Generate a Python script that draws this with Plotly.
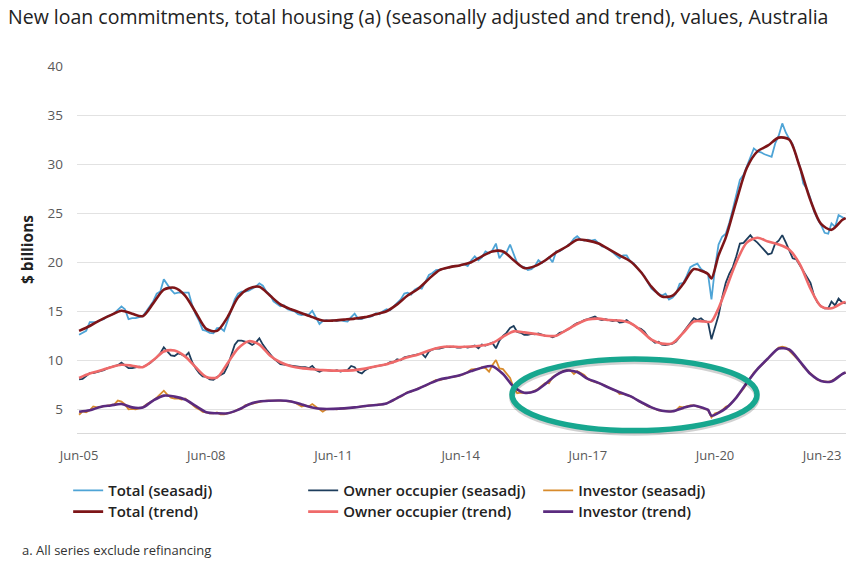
import pandas as pd
import plotly.graph_objects as go

# ---------------- data ----------------
start_month = "2005-06-01"
n_months = 218  # Jun-05 .. Jul-23

total_sa = [
    12.6, 12.8, 13.0, 13.9, 13.9, 13.9, 14.1, 14.2, 14.5, 14.6, 14.8, 15.2,
    15.5, 15.2, 14.2, 14.3, 14.3, 14.4, 14.5, 15.0, 15.5, 16.0, 16.8, 17.0,
    18.25, 17.7, 17.2, 16.8, 16.9, 16.9, 16.9, 16.9, 15.6, 14.7, 14.0, 13.1,
    13.0, 12.8, 12.75, 13.27, 13.3, 13.0, 14.0, 15.0, 16.2, 16.8, 17.0, 17.0,
    17.1, 17.3, 17.5, 17.85, 17.6, 17.0, 16.7, 16.0, 15.7, 15.5, 15.6, 15.2,
    15.1, 15.0, 14.7, 14.6, 14.7, 14.65, 15.05, 14.3, 13.7, 14.0, 14.1, 14.0,
    14.1, 14.0, 14.1, 14.0, 13.95, 14.4, 14.75, 14.2, 14.2, 14.4, 14.4, 14.5,
    14.8, 14.7, 15.0, 15.2, 15.1, 15.5, 15.8, 16.2, 16.8, 16.9, 16.7, 17.2,
    17.4, 17.3, 18.0, 18.7, 18.9, 19.2, 19.25, 19.3, 19.4, 19.5, 19.6, 19.6,
    19.7, 19.8, 19.6, 20.2, 20.6, 20.2, 20.5, 21.1, 20.9, 21.2, 21.9, 20.4,
    20.9, 21.0, 21.8, 20.8, 19.9, 19.6, 19.5, 19.2, 19.3, 19.6, 20.2, 19.9,
    20.2, 20.5, 20.0, 21.1, 21.1, 21.4, 21.6, 21.9, 22.4, 22.65, 22.3, 22.2,
    22.3, 22.2, 22.3, 21.9, 21.6, 21.5, 21.3, 21.0, 20.7, 20.4, 20.7, 20.7,
    20.1, 19.9, 19.4, 19.0, 18.6, 17.9, 17.3, 17.0, 16.8, 16.6, 16.8, 16.2,
    16.4, 16.8, 17.8, 17.9, 18.6, 19.5, 19.7, 19.85, 19.3, 19.1, 18.8, 16.2,
    19.5, 21.8, 22.6, 22.9, 24.0, 25.4, 26.8, 28.4, 28.9, 29.8, 30.6, 31.6,
    31.3, 31.2, 31.0, 30.9, 30.75, 32.1, 32.9, 34.15, 33.2, 32.6, 32.0, 30.8,
    29.8, 28.0, 27.5, 26.5, 25.2, 24.4, 23.8, 23.0, 22.9, 23.95, 23.6, 24.8,
    24.6, 24.4,
]

owner_sa = [
    8.05, 8.1, 8.4, 8.7, 8.7, 8.8, 8.9, 9.0, 9.2, 9.3, 9.4, 9.5,
    9.76, 9.5, 9.2, 9.2, 9.3, 9.35, 9.3, 9.5, 9.7, 10.0, 10.3, 10.7,
    11.33, 10.9, 10.5, 10.44, 10.7, 10.6, 10.4, 10.78, 9.8, 9.2, 8.7, 8.35,
    8.3, 8.05, 8.0, 8.3, 8.5, 8.7, 9.4, 10.4, 11.6, 12.0, 12.0, 11.9,
    11.8, 11.56, 11.8, 12.24, 11.6, 11.1, 10.6, 10.2, 9.9, 9.6, 9.55, 9.5,
    9.45, 9.4, 9.3, 9.3, 9.3, 9.2, 9.42, 9.0, 8.84, 9.0, 9.0, 8.95,
    8.9, 9.0, 8.85, 8.95, 9.0, 9.42, 9.3, 8.8, 8.67, 9.0, 9.2, 9.3,
    9.4, 9.45, 9.5, 9.6, 9.8, 9.8, 10.1, 10.0, 10.3, 10.37, 10.4, 10.5,
    10.6, 10.7, 10.3, 10.9, 11.1, 11.22, 11.2, 11.3, 11.4, 11.35, 11.4, 11.3,
    11.3, 11.4, 11.3, 11.4, 11.5, 11.22, 11.6, 11.5, 11.7, 11.8, 11.22, 12.0,
    12.5, 12.8, 13.3, 13.5, 12.9, 12.8, 12.6, 12.59, 12.7, 12.65, 12.75, 12.6,
    12.5, 12.5, 12.35, 12.5, 12.8, 12.9, 13.1, 13.3, 13.6, 13.8, 13.9, 14.1,
    14.2, 14.3, 14.46, 14.2, 14.1, 14.2, 14.1, 14.0, 14.1, 13.84, 13.9, 14.1,
    13.8, 13.6, 13.3, 13.2, 12.93, 12.4, 12.1, 11.8, 11.9, 11.6, 11.56, 11.6,
    11.7, 11.9, 12.4, 12.8, 13.3, 13.9, 14.29, 14.1, 14.29, 14.0, 13.9, 12.14,
    13.4, 14.6, 16.4, 17.9, 18.8, 19.5, 20.6, 21.9, 21.97, 22.3, 22.76, 22.3,
    22.0, 21.6, 21.2, 20.8, 20.9, 21.9, 22.2, 22.76, 22.0, 21.2, 20.4, 20.3,
    19.7, 19.1, 18.5, 17.9, 16.6, 15.9, 15.5, 15.3, 15.3, 15.99, 15.6, 16.3,
    15.9, 15.8,
]

investor_sa = [
    4.45, 4.8, 4.7, 4.9, 5.3, 5.2, 5.25, 5.3, 5.35, 5.4, 5.5, 5.9,
    5.8, 5.5, 5.0, 5.05, 5.0, 5.1, 5.2, 5.5, 5.7, 5.9, 6.2, 6.5,
    6.9, 6.5, 6.2, 6.1, 6.12, 6.0, 6.1, 5.8, 5.5, 5.2, 5.0, 4.75,
    4.7, 4.6, 4.6, 4.69, 4.5, 4.49, 4.6, 4.7, 4.8, 5.0, 5.05, 5.4,
    5.5, 5.6, 5.7, 5.8, 5.85, 5.9, 5.88, 5.9, 5.9, 5.9, 5.88, 5.85,
    5.8, 5.7, 5.5, 5.3, 5.4, 5.3, 5.54, 5.3, 5.0, 4.76, 5.0, 5.05,
    5.05, 5.0, 5.1, 5.07, 5.1, 5.2, 5.2, 5.25, 5.3, 5.3, 5.4, 5.4,
    5.45, 5.5, 5.5, 5.6, 5.8, 5.9, 6.2, 6.3, 6.5, 6.75, 6.8, 7.0,
    7.15, 7.3, 7.4, 7.6, 7.8, 8.0, 7.95, 8.1, 8.15, 8.3, 8.3, 8.4,
    8.5, 8.6, 8.8, 9.08, 9.1, 9.1, 9.3, 9.2, 8.84, 9.5, 10.03, 9.18,
    9.1, 8.6, 8.2, 7.2, 6.65, 6.7, 6.7, 6.65, 6.75, 6.9, 7.1, 7.4,
    7.7, 7.65, 8.3, 8.5, 8.7, 8.9, 8.95, 9.0, 8.6, 8.9, 8.7, 8.5,
    8.1, 7.9, 7.8, 7.7, 7.55, 7.4, 7.2, 7.0, 6.9, 6.56, 6.6, 6.5,
    6.35, 6.15, 5.95, 5.75, 5.55, 5.3, 5.2, 5.05, 4.9, 4.85, 4.8, 4.8,
    4.8, 4.9, 5.27, 5.2, 5.3, 5.4, 5.4, 5.3, 5.2, 5.1, 4.95, 4.18,
    4.6, 4.7, 4.9, 5.27, 5.4, 5.8, 6.2, 6.6, 7.1, 7.6, 8.2, 8.74,
    9.1, 9.4, 9.8, 10.2, 10.6, 10.9, 11.3, 11.4, 11.3, 11.0, 10.6, 10.3,
    9.9, 9.35, 9.0, 8.6, 8.3, 8.0, 7.9, 7.85, 7.8, 7.9, 8.1, 8.35,
    8.6, 8.75,
]

# trend series read at (mostly) quarterly points, month index from Jun-05
trend_months = [0, 3, 6, 9, 12, 15, 18, 21, 24, 27, 30, 33, 36, 39, 42, 45, 48, 51,
                54, 57, 60, 63, 66, 69, 72, 75, 78, 81, 84, 87, 90, 93, 96, 99, 102,
                105, 108, 111, 114, 117, 120, 123, 126, 129, 132, 135, 138, 141, 144,
                147, 150, 153, 156, 159, 162, 165, 168, 171, 174, 177, 178, 179, 181,
                183, 186, 189, 192, 195, 198, 201, 204, 207, 210, 213, 216, 217]

total_tr = [13.0, 13.5, 14.1, 14.6, 15.05, 14.75, 14.5, 15.8, 17.2, 17.4,
            16.6, 14.9, 13.2, 13.0, 14.4, 16.4, 17.3, 17.5, 16.6, 15.7,
            15.2, 14.8, 14.4, 14.05, 14.05, 14.15, 14.25, 14.4, 14.7, 15.0,
            15.7, 16.6, 17.3, 18.3, 19.2, 19.5, 19.7, 20.0, 20.6, 21.1,
            21.1, 20.2, 19.4, 19.6, 20.2, 21.0, 21.6, 22.3, 22.2, 21.9,
            21.3, 20.7, 20.1, 19.0, 17.5, 16.5, 16.6, 17.8, 19.3, 19.0,
            18.8, 18.35, 20.7, 22.5, 26.2, 29.6, 31.3, 31.9, 32.7, 32.5,
            29.7, 26.3, 23.9, 23.3, 24.3, 24.5]

owner_tr = [8.2, 8.65, 8.95, 9.3, 9.55, 9.45, 9.3, 10.0, 10.9, 11.0,
            10.4, 9.3, 8.3, 8.25, 9.7, 11.2, 11.95, 11.6, 10.5, 9.8,
            9.4, 9.2, 9.1, 9.0, 8.95, 8.95, 9.0, 9.15, 9.4, 9.6,
            9.95, 10.3, 10.6, 11.0, 11.3, 11.4, 11.35, 11.4, 11.5, 11.75,
            12.4, 12.95, 12.85, 12.7, 12.5, 12.5, 13.1, 13.7, 14.15, 14.25,
            14.1, 14.05, 13.8, 13.05, 12.1, 11.7, 11.75, 12.8, 13.95, 13.95,
            13.9, 13.95, 15.3, 17.2, 20.0, 22.0, 22.5, 22.1, 21.8, 21.3,
            19.8, 17.3, 15.5, 15.3, 15.85, 15.95]

investor_tr = [4.75, 4.9, 5.25, 5.4, 5.55, 5.2, 5.2, 5.9, 6.4, 6.3,
               6.0, 5.35, 4.7, 4.6, 4.6, 4.95, 5.5, 5.8, 5.88, 5.9,
               5.8, 5.5, 5.2, 5.05, 5.05, 5.1, 5.2, 5.35, 5.45, 5.6,
               6.15, 6.7, 7.1, 7.6, 8.05, 8.25, 8.5, 8.9, 9.25, 9.4,
               8.6, 7.3, 6.7, 6.85, 7.6, 8.5, 8.95, 8.8, 8.1, 7.7,
               7.2, 6.75, 6.35, 5.75, 5.2, 4.85, 4.8, 5.15, 5.4, 5.1,
               4.95, 4.35, 4.65, 5.1, 6.2, 7.7, 9.1, 10.2, 11.2, 11.1,
               9.9, 8.6, 7.9, 7.85, 8.6, 8.75]

tick_text = ["Jun-05", "Jun-08", "Jun-11", "Jun-14", "Jun-17", "Jun-20", "Jun-23"]
y_ticks = [5, 10, 15, 20, 25, 30, 35, 40]

# ---------------- build ----------------
base = pd.Timestamp(start_month)
dates = pd.date_range(start_month, periods=n_months, freq="MS")
trend_dates = [base + pd.DateOffset(months=m) for m in trend_months]

C_TOTAL_SA = "#4ea4d6"
C_TOTAL_TR = "#7d1518"
C_OWNER_SA = "#1d3d5c"
C_OWNER_TR = "#ef6a6a"
C_INV_SA = "#d88b2c"
C_INV_TR = "#5b2b7f"

fig = go.Figure()
sa_w, tr_w = 1.8, 2.6
fig.add_trace(go.Scatter(x=dates, y=total_sa, name="Total (seasadj)", mode="lines",
                         legend="legend", line=dict(color=C_TOTAL_SA, width=sa_w)))
fig.add_trace(go.Scatter(x=dates, y=owner_sa, name="Owner occupier (seasadj)", mode="lines",
                         legend="legend", line=dict(color=C_OWNER_SA, width=sa_w)))
fig.add_trace(go.Scatter(x=dates, y=investor_sa, name="Investor (seasadj)", mode="lines",
                         legend="legend", line=dict(color=C_INV_SA, width=sa_w)))
fig.add_trace(go.Scatter(x=trend_dates, y=total_tr, name="Total (trend)", mode="lines",
                         legend="legend2",
                         line=dict(color=C_TOTAL_TR, width=tr_w, shape="spline", smoothing=0.8)))
fig.add_trace(go.Scatter(x=trend_dates, y=owner_tr, name="Owner occupier (trend)", mode="lines",
                         legend="legend2",
                         line=dict(color=C_OWNER_TR, width=tr_w, shape="spline", smoothing=0.8)))
fig.add_trace(go.Scatter(x=trend_dates, y=investor_tr, name="Investor (trend)", mode="lines",
                         legend="legend2",
                         line=dict(color=C_INV_TR, width=tr_w, shape="spline", smoothing=0.8)))

# tick positions (last label pulled inside the plot area as in the original)
tick_vals = [base + pd.DateOffset(months=36 * i) for i in range(6)] + [pd.Timestamp("2022-12-10")]

legend_common = dict(orientation="h", x=-0.0115, xanchor="left", yanchor="top",
                     entrywidth=190, entrywidthmode="pixels", traceorder="normal",
                     font=dict(size=15, color="#222222", family="Open Sans", weight=600),
                     bgcolor="rgba(0,0,0,0)", itemclick=False, itemdoubleclick=False)

fig.update_layout(
    width=854, height=565,
    margin=dict(l=77, r=8, t=66, b=132),
    paper_bgcolor="white", plot_bgcolor="white",
    font=dict(family="Open Sans", color="#222222"),
    title=dict(text="New loan commitments, total housing (a) (seasonally adjusted and trend), values, Australia",
               x=8 / 854, xanchor="left", xref="container",
               y=1 - 17 / 565, yanchor="middle", yref="container",
               font=dict(size=19.5, color="#222222", family="Open Sans")),
    showlegend=True,
    legend=dict(legend_common, y=-0.112),
    legend2=dict(legend_common, y=-0.170),
    hovermode=False,
)

fig.update_xaxes(type="date", range=["2005-05-14", "2023-07-04"],
                 tickvals=tick_vals, ticktext=tick_text,
                 showgrid=False, zeroline=False,
                 showline=True, linecolor="#d9d9d9", linewidth=1,
                 ticks="", ticklabelstandoff=10,
                 tickfont=dict(size=13, color="#595959"))
fig.update_yaxes(range=[2.59, 40], tickvals=y_ticks,
                 showgrid=True, gridcolor="#e2e2e2", gridwidth=1,
                 zeroline=False, showline=False, ticks="", ticklabelstandoff=13,
                 tickfont=dict(size=13.5, color="#595959"),
                 title=dict(text="$ billions", standoff=10,
                            font=dict(size=15.5, color="#222222", weight=700)))

# highlight ellipse (annotation shape) with a soft shadow
ex0, ex1 = (512 - 77) / 769, (757 - 77) / 769
ey0, ey1 = (433 - 430.5) / 367, (433 - 359) / 367
fig.add_shape(type="circle", xref="paper", yref="paper",
              x0=ex0, x1=ex1, y0=ey0 - 0.006, y1=ey1 - 0.006,
              line=dict(color="rgba(0,0,0,0.18)", width=6), layer="above")
fig.add_shape(type="circle", xref="paper", yref="paper",
              x0=ex0, x1=ex1, y0=ey0, y1=ey1,
              line=dict(color="#17a78f", width=5.5), layer="above")

fig.add_annotation(text="a. All series exclude refinancing", xref="paper", yref="paper",
                   x=(20 - 77) / 769, xanchor="left", y=(433 - 550) / 367, yanchor="middle",
                   showarrow=False, font=dict(size=13, color="#333333"))

fig.write_html("out.html", include_plotlyjs=True, config={"displayModeBar": False})
